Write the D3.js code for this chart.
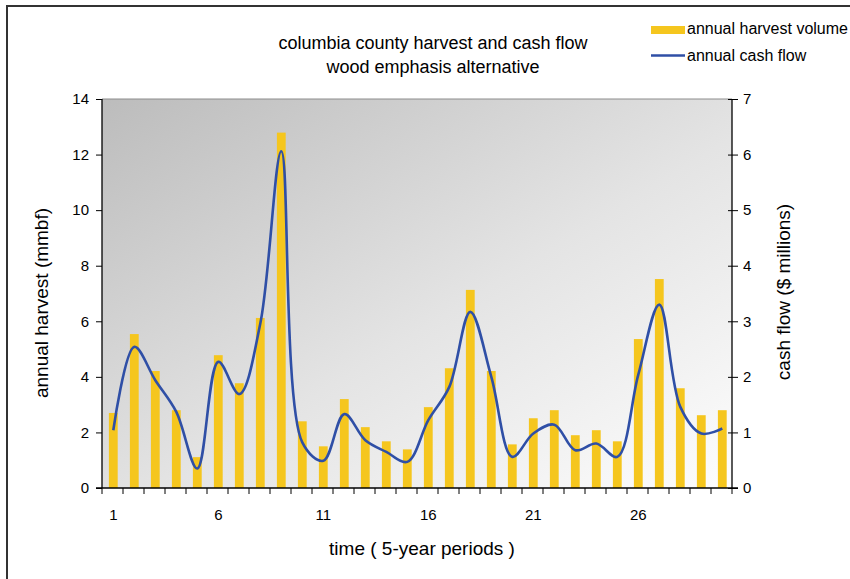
<!DOCTYPE html>
<html><head><meta charset="utf-8">
<script src="https://cdn.jsdelivr.net/npm/d3@7"></script>
<style>
html,body{margin:0;padding:0;background:#fff;}
svg{display:block;font-family:"Liberation Sans",Arial,sans-serif;}
</style></head>
<body>
<svg id="chart" width="850" height="579"></svg>
<script>
// ---- data ----
const periods = d3.range(1, 31);
const harvest = [2.70, 5.54, 4.21, 2.80, 1.11, 4.78, 3.77, 6.12, 12.79, 2.40,
                 1.50, 3.20, 2.19, 1.68, 1.39, 2.91, 4.31, 7.13, 4.21, 1.57,
                 2.51, 2.80, 1.90, 2.08, 1.68, 5.36, 7.52, 3.59, 2.62, 2.80];
const cashFlow = [1.04, 2.54, 1.94, 1.37, 0.35, 2.27, 1.69, 2.96, 6.06, 0.82,
                  0.49, 1.33, 0.86, 0.65, 0.47, 1.22, 1.82, 3.17, 2.00, 0.56,
                  0.98, 1.14, 0.68, 0.80, 0.56, 2.04, 3.30, 1.46, 0.98, 1.07];
const leftTicks = [0, 2, 4, 6, 8, 10, 12, 14];
const rightTicks = [0, 1, 2, 3, 4, 5, 6, 7];
const xTickLabels = [1, 6, 11, 16, 21, 26];
const titleLines = ["columbia county harvest and cash flow", "wood emphasis alternative"];
const legendLabels = ["annual harvest volume", "annual cash flow"];

// ---- layout ----
const svg = d3.select("#chart");
const L = 102, R = 732, T = 99, B = 488;
const barColor = "#F5C61E", lineColor = "#2F4FA6";

const x = d3.scaleBand().domain(periods).range([L, R]).padding(0);
const yL = d3.scaleLinear().domain([0, 14]).range([B, T]);
const yR = d3.scaleLinear().domain([0, 7]).range([B, T]);
const bw = 8.8;
const cx = d => x(d) + x.bandwidth() / 2 + 0.8;

// outer frame
svg.append("path").attr("d", "M7,579 V6 H850")
  .attr("fill", "none").attr("stroke", "#333").attr("stroke-width", 2);

// plot background gradient
const defs = svg.append("defs");
const g = defs.append("linearGradient").attr("id", "bg")
  .attr("x1", 0).attr("y1", 0).attr("x2", 1).attr("y2", 1);
g.append("stop").attr("offset", "0%").attr("stop-color", "#bcbcbc");
g.append("stop").attr("offset", "55%").attr("stop-color", "#e4e4e4");
g.append("stop").attr("offset", "100%").attr("stop-color", "#fdfdfd");
svg.append("rect").attr("x", L).attr("y", T).attr("width", R - L).attr("height", B - T)
  .attr("fill", "url(#bg)");
svg.append("line").attr("x1", L).attr("x2", R).attr("y1", T).attr("y2", T)
  .attr("stroke", "#8c8c8c").attr("stroke-width", 1);

// bars
svg.append("g").selectAll("rect").data(periods).join("rect")
  .attr("x", d => cx(d) - bw / 2)
  .attr("width", bw)
  .attr("y", (d, i) => yL(harvest[i]))
  .attr("height", (d, i) => B - yL(harvest[i]))
  .attr("fill", barColor);

// line
const line = d3.line().x(d => cx(d)).y((d, i) => yR(cashFlow[i])).curve(d3.curveCatmullRom.alpha(0.5));
svg.append("path").datum(periods).attr("d", line)
  .attr("fill", "none").attr("stroke", lineColor).attr("stroke-width", 2.6)
  .attr("stroke-linejoin", "round");

const FF = "'Liberation Sans', Arial, sans-serif";

// left axis
const axL = svg.append("g").attr("transform", `translate(${L},0)`)
  .call(d3.axisLeft(yL).tickValues(leftTicks).tickSize(6).tickPadding(7).tickFormat(d3.format("d")));
axL.select(".domain").attr("stroke", "#000").attr("stroke-width", 1.3).attr("d", `M0,${T}V${B}`);
axL.selectAll(".tick line").attr("stroke", "#000").attr("x2", -6).attr("x1", 0);
axL.selectAll(".tick text").attr("font-size", 15).attr("fill", "#000").attr("font-family", FF);

// right axis
const axR = svg.append("g").attr("transform", `translate(${R},0)`)
  .call(d3.axisRight(yR).tickValues(rightTicks).tickSize(6).tickPadding(5).tickFormat(d3.format("d")));
axR.select(".domain").attr("stroke", "#000").attr("stroke-width", 1.3).attr("d", `M0,${T}V${B}`);
axR.selectAll(".tick line").attr("stroke", "#000").attr("x1", -4).attr("x2", 6);
axR.selectAll(".tick text").attr("font-size", 15).attr("fill", "#000").attr("font-family", FF);

// bottom axis: tick marks at band boundaries
const bounds = periods.map(d => x(d)).concat([R]);
svg.append("g").selectAll("line").data(bounds).join("line")
  .attr("x1", d => d).attr("x2", d => d).attr("y1", B).attr("y2", B + 6)
  .attr("stroke", "#000").attr("stroke-width", 1);
svg.append("line").attr("x1", L - 6).attr("x2", R + 6).attr("y1", B).attr("y2", B)
  .attr("stroke", "#000").attr("stroke-width", 1.5);
svg.append("g").selectAll("text").data(xTickLabels).join("text")
  .attr("x", d => cx(d)).attr("y", 520).attr("text-anchor", "middle")
  .attr("font-size", 15).attr("fill", "#000").text(d => d);

// axis titles
svg.append("text").attr("x", 422).attr("y", 555).attr("text-anchor", "middle")
  .attr("font-size", 19).attr("fill", "#000").text("time ( 5-year periods )");
svg.append("text").attr("transform", "translate(48,303) rotate(-90)").attr("text-anchor", "middle")
  .attr("font-size", 19).attr("fill", "#000").text("annual harvest (mmbf)");
svg.append("text").attr("transform", "translate(790,292) rotate(-90)").attr("text-anchor", "middle")
  .attr("font-size", 19).attr("fill", "#000").text("cash flow ($ millions)");

// title
svg.append("g").selectAll("text").data(titleLines).join("text")
  .attr("x", 433).attr("y", (d, i) => 49 + i * 24).attr("text-anchor", "middle")
  .attr("font-size", 18).attr("fill", "#000").text(d => d);

// legend
const lg = svg.append("g");
lg.append("rect").attr("x", 651).attr("y", 26).attr("width", 34).attr("height", 8).attr("fill", barColor);
lg.append("line").attr("x1", 651).attr("x2", 685).attr("y1", 55.5).attr("y2", 55.5)
  .attr("stroke", lineColor).attr("stroke-width", 2.6);
lg.selectAll("text").data(legendLabels).join("text")
  .attr("x", 687).attr("y", (d, i) => 34 + i * 27)
  .attr("font-size", 16).attr("fill", "#000").text(d => d);
</script>
</body></html>
